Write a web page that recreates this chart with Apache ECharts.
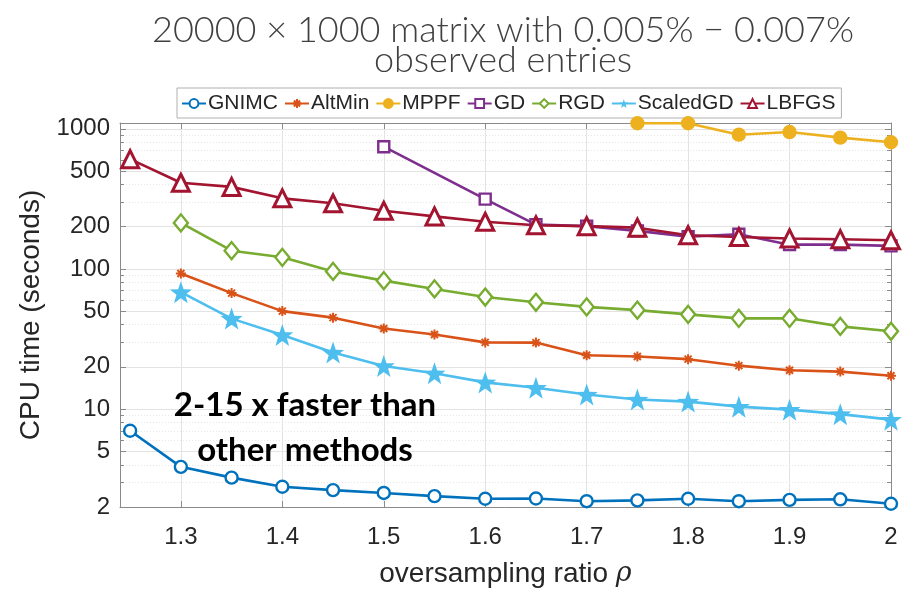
<!DOCTYPE html>
<html>
<head>
<meta charset="utf-8">
<script src="https://cdn.jsdelivr.net/npm/echarts@6/dist/echarts.min.js"></script>
<style>
html,body{margin:0;padding:0;background:#fff;}
#chart{width:909px;height:593px;}
</style>
</head>
<body>
<div id="chart"></div>
<script>
// ---- data ----
const xGNIMC = [1.25,1.3,1.35,1.4,1.45,1.5,1.55,1.6,1.65,1.7,1.75,1.8,1.85,1.9,1.95,2.0];
const yGNIMC = [7.0,3.87,3.24,2.79,2.64,2.52,2.39,2.29,2.30,2.20,2.23,2.29,2.20,2.25,2.27,2.11];
const xAltMin = [1.3,1.35,1.4,1.45,1.5,1.55,1.6,1.65,1.7,1.75,1.8,1.85,1.9,1.95,2.0];
const yAltMin = [92.7,67.2,50.0,44.9,37.6,34.0,29.9,29.8,24.2,23.7,22.7,20.4,18.9,18.5,17.3];
const xMPPF = [1.75,1.8,1.85,1.9,1.95,2.0];
const yMPPF = [1096,1096,908,948,865,802];
const xGD = [1.5,1.6,1.65,1.7,1.75,1.8,1.85,1.9,1.95,2.0];
const yGD = [745,315,207,202,187,170,177,149,149,146];
const xRGD = [1.3,1.35,1.4,1.45,1.5,1.55,1.6,1.65,1.7,1.75,1.8,1.85,1.9,1.95,2.0];
const yRGD = [213,135,121,96,82.5,72,63,57.8,53.6,50.8,47.4,44.4,44.4,38.9,35.9];
const xScaledGD = [1.3,1.35,1.4,1.45,1.5,1.55,1.6,1.65,1.7,1.75,1.8,1.85,1.9,1.95,2.0];
const yScaledGD = [68.3,44.2,33.8,25.3,20.3,18.0,15.5,14.2,12.7,11.7,11.3,10.4,9.9,9.2,8.4];
const xLBFGS = [1.25,1.3,1.35,1.4,1.45,1.5,1.55,1.6,1.65,1.7,1.75,1.8,1.85,1.9,1.95,2.0];
const yLBFGS = [607,412,385,319,294,260,237,217,205,202,197,174,169,165,163,160];

const xTicks = [1.3,1.4,1.5,1.6,1.7,1.8,1.9,2];
const yTicks = [2,5,10,20,50,100,200,500,1000];
const yMinor = [3,4,6,7,8,9,30,40,60,70,80,90,300,400,600,700,800,900];
const titleLines = ['20000 × 1000 matrix with 0.005% − 0.007%', 'observed entries'];
const annotation = ['2-15 x faster than', 'other methods'];

// ---- build ----
const zip = (xs, ys) => xs.map((x, i) => [x, ys[i]]);
const starPath = 'path://M0,-10L2.35,-3.24L9.51,-3.09L3.8,1.24L5.88,8.09L0,4L-5.88,8.09L-3.8,1.24L-9.51,-3.09L-2.35,-3.24Z';
const astPath = 'path://M0,-6L0,6M-6,0L6,0M-4.2,-4.2L4.2,4.2M-4.2,4.2L4.2,-4.2';

const AX = '#8a8a8a';
const TXT = '#262626';
const FONT = 'Liberation Sans';
const YMIN = 2, YMAX = 1100, XMIN = 1.24, XMAX = 2;

function mk(name, xs, ys, color, symbol, size, emptyFill, extra) {
  const s = {
    name, type: 'line', data: zip(xs, ys),
    xAxisIndex: 0, yAxisIndex: 0,
    symbol, symbolSize: size, showAllSymbol: true,
    lineStyle: { color, width: 2.6 },
    itemStyle: { color: emptyFill ? '#fff' : color, borderColor: color, borderWidth: 2.4 },
    emphasis: { disabled: true },
    animation: false, clip: true, z: 5
  };
  return Object.assign(s, extra || {});
}

const series = [
  mk('GNIMC', xGNIMC, yGNIMC, '#0072BD', 'circle', 12, true),
  mk('AltMin', xAltMin, yAltMin, '#D95319', astPath, 10, true, { itemStyle: { color: 'none', borderColor: '#D95319', borderWidth: 2 } }),
  mk('MPPF', xMPPF, yMPPF, '#EDB120', 'circle', 12, false),
  mk('GD', xGD, yGD, '#7E2F8E', 'rect', 11, true),
  mk('RGD', xRGD, yRGD, '#77AC30', 'diamond', [14, 17], true),
  mk('ScaledGD', xScaledGD, yScaledGD, '#4DBEEE', starPath, 22, false, { itemStyle: { color: '#4DBEEE', borderWidth: 0 } }),
  mk('LBFGS', xLBFGS, yLBFGS, '#A2142F', 'triangle', 17, true, { itemStyle: { color: '#fff', borderColor: '#A2142F', borderWidth: 3 } })
];

const fmt = v => String(+v.toPrecision(6));

const chart = echarts.init(document.getElementById('chart'), null, { renderer: 'canvas' });
chart.setOption({
  backgroundColor: '#fff',
  animation: false,
  title: [
    { text: titleLines.join('\n'), left: 498, top: 10, textAlign: 'center',
      textStyle: { fontFamily: 'Lato', fontWeight: 300, fontSize: 36, lineHeight: 30, color: '#404040' } },
    { text: annotation.join('\n'), left: 300, top: 378, textAlign: 'center',
      textStyle: { fontFamily: 'Lato', fontWeight: 'bold', fontSize: 33, lineHeight: 45, color: '#000' } }
  ],
  legend: {
    left: 177, top: 88,
    orient: 'horizontal',
    itemWidth: 24, itemHeight: 11, itemGap: 6,
    padding: [5, 6, 4, 4],
    borderColor: '#b0b0b0', borderWidth: 1, backgroundColor: '#fff',
    textStyle: { fontFamily: FONT, fontSize: 21, color: TXT, padding: [0, 0, 0, -3] },
    data: series.map(s => s.name)
  },
  grid: { left: 120, right: 18, top: 123, bottom: 78, containLabel: false },
  xAxis: [
    { type: 'value', min: XMIN, max: XMAX, position: 'bottom',
      name: 'oversampling ratio {i|ρ}', nameLocation: 'middle', nameGap: 53,
      nameTextStyle: { fontFamily: FONT, fontSize: 28, color: TXT,
        rich: { i: { fontFamily: 'DejaVu Serif', fontStyle: 'italic', fontSize: 27, color: TXT } } },
      axisLine: { show: true, onZero: false, lineStyle: { color: AX, width: 1 } },
      axisTick: { show: true, inside: true, length: 6, customValues: xTicks, lineStyle: { color: AX } },
      axisLabel: { customValues: xTicks, formatter: fmt, fontFamily: FONT, fontSize: 24, color: TXT, margin: 18 },
      splitLine: { show: true, lineStyle: { color: '#e3e3e3', width: 1 } }
    },
    { type: 'value', min: XMIN, max: XMAX, position: 'top',
      axisLine: { show: true, onZero: false, lineStyle: { color: AX, width: 1 } },
      axisTick: { show: true, inside: true, length: 6, customValues: xTicks, lineStyle: { color: AX } },
      axisLabel: { show: false }, splitLine: { show: false }
    }
  ],
  yAxis: [
    { type: 'log', logBase: 10, min: YMIN, max: YMAX, position: 'left',
      name: 'CPU time (seconds)', nameLocation: 'middle', nameGap: 66,
      nameTextStyle: { fontFamily: FONT, fontSize: 28, color: TXT },
      axisLine: { show: true, onZero: false, lineStyle: { color: AX, width: 1 } },
      axisTick: { show: true, inside: true, length: 6, customValues: yTicks, lineStyle: { color: AX } },
      axisLabel: { customValues: yTicks, formatter: fmt, fontFamily: FONT, fontSize: 24, color: TXT, margin: 10 },
      splitLine: { show: true, lineStyle: { color: '#e3e3e3', width: 1 } }
    },
    { type: 'log', logBase: 10, min: YMIN, max: YMAX, position: 'left',
      axisLine: { show: false },
      axisTick: { show: true, inside: true, length: 4, customValues: yMinor, lineStyle: { color: AX } },
      axisLabel: { show: false, customValues: yMinor },
      splitLine: { show: true, lineStyle: { color: '#e6e6e6', width: 1, type: [1, 2] } }
    },
    { type: 'log', logBase: 10, min: YMIN, max: YMAX, position: 'right',
      axisLine: { show: true, onZero: false, lineStyle: { color: AX, width: 1 } },
      axisTick: { show: true, inside: true, length: 6, customValues: yTicks, lineStyle: { color: AX } },
      axisLabel: { show: false, customValues: yTicks }, splitLine: { show: false }
    },
    { type: 'log', logBase: 10, min: YMIN, max: YMAX, position: 'right',
      axisLine: { show: false },
      axisTick: { show: true, inside: true, length: 4, customValues: yMinor, lineStyle: { color: AX } },
      axisLabel: { show: false, customValues: yMinor }, splitLine: { show: false }
    }
  ],
  series
});
</script>
</body>
</html>
